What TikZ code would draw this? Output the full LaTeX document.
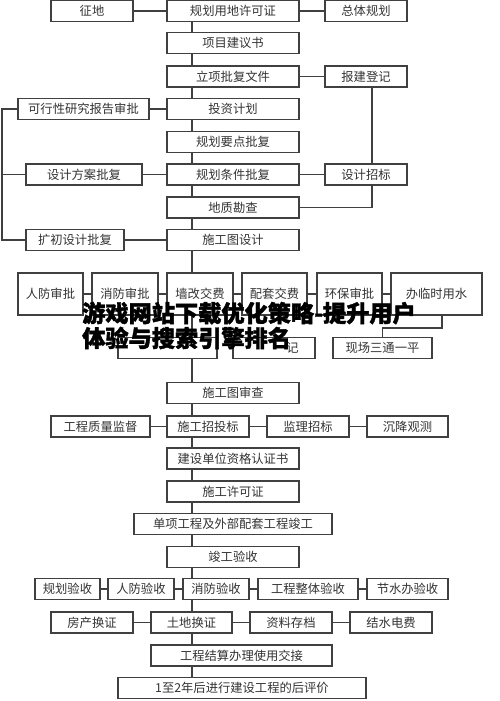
\documentclass[tikz,border=0pt]{standalone}
\usepackage{fontspec}
\newfontfamily\cjk{Noto Sans CJK SC}
\newfontfamily\cjkheavy{Noto Sans CJK SC}[BoldFeatures={FakeBold=1.6}]
\usepackage{tikz}
\usetikzlibrary{positioning, backgrounds}
\tikzstyle{block} = [rectangle, draw=black!75, line width=0.6pt, fill=white, minimum width=2.64cm, minimum height=0.42cm, inner sep=0pt, text=black!80, font=\cjk\fontsize{7}{8}\selectfont]
\tikzstyle{tall} = [block, minimum height=0.84cm]
\tikzstyle{line} = [draw=black!75, line width=0.6pt]
\tikzstyle{banner} = [anchor=west, align=left, text=black, font=\cjkheavy\bfseries\fontsize{13.2}{14.2}\selectfont]

\begin{document}
\begin{tikzpicture}[x=0.02cm, y=-0.02cm]
	\useasboundingbox (0,0) rectangle (500,701);

	% Main flow
	\node (p1)  [block] at (233,11) {规划用地许可证};
	\node (p2)  [block] at (233,43) {项目建议书};
	\node (p3)  [block] at (233,76.5) {立项批复文件};
	\node (p4)  [block] at (233,109) {投资计划};
	\node (p5)  [block] at (233,142) {规划要点批复};
	\node (p6)  [block] at (233,174.5) {规划条件批复};
	\node (p7)  [block] at (233,207.5) {地质勘查};
	\node (p8)  [block] at (233,240) {施工图设计};
	\node (p9)  [block] at (233,393) {施工图审查};
	\node (p10) [block] at (233,458.5) {建设单位资格认证书};
	\node (p11) [block] at (233,491.5) {施工许可证};
	\node (p12) [block, minimum width=3.96cm] at (233,524) {单项工程及外部配套工程竣工};
	\node (p13) [block] at (233,557) {竣工验收};
	\node (p14) [block, minimum width=3.62cm] at (241.5,655.5) {工程结算办理使用交接};
	\node (p15) [block, minimum width=4.96cm] at (242,688) {1至2年后进行建设工程的后评价};

	% Side boxes
	\node (l1) [block, minimum width=1.64cm] at (92,11) {征地};
	\node (r1) [block, minimum width=1.64cm] at (366,11) {总体规划};
	\node (r2) [block, minimum width=1.64cm] at (366,76.5) {报建登记};
	\node (l2) [block, minimum width=2.62cm] at (83.5,109) {可行性研究报告审批};
	\node (l3) [block, minimum width=2.32cm] at (84,174.5) {设计方案批复};
	\node (r3) [block, minimum width=1.64cm] at (366,174.5) {设计招标};
	\node (l4) [block, minimum width=1.96cm] at (75,240) {扩初设计批复};

	% Approvals and fees
	\node (a1) [tall, minimum width=1.3cm] at (50.5,294) {人防审批};
	\node (a2) [tall, minimum width=1.32cm] at (125,294) {消防审批};
	\node (a3) [tall, minimum width=1.32cm] at (200,294) {墙改交费};
	\node (a4) [tall, minimum width=1.3cm] at (274.5,294) {配套交费};
	\node (a5) [tall, minimum width=1.3cm] at (349.5,294) {环保审批};
	\node (a6) [tall, minimum width=1.82cm] at (436.5,294) {办临时用水};
	\node (b1) [block, minimum width=1.98cm] at (167.5,348) {};
	\node (b2) [block, minimum width=1.64cm] at (274,348) {\hphantom{记记记}记};
	\node (b3) [block, minimum width=1.98cm] at (382.5,348) {现场三通一平};

	% Tendering
	\node (c1) [block, minimum width=1.98cm] at (100.5,426.5) {工程质量监督};
	\node (c2) [block, minimum width=1.64cm] at (208,426.5) {施工招投标};
	\node (c3) [block, minimum width=1.64cm] at (308,426.5) {监理招标};
	\node (c4) [block, minimum width=1.62cm] at (407.5,426.5) {沉降观测};

	% Acceptance
	\node (d1) [block, minimum width=1.3cm] at (67.5,589) {规划验收};
	\node (d2) [block, minimum width=1.32cm] at (141,589) {人防验收};
	\node (d3) [block, minimum width=1.32cm] at (216,589) {消防验收};
	\node (d4) [block, minimum width=2cm] at (308,589) {工程整体验收};
	\node (d5) [block, minimum width=1.62cm] at (407.5,589) {节水办验收};
	\node (e1) [block, minimum width=1.64cm] at (92,622.5) {房产换证};
	\node (e2) [block, minimum width=1.62cm] at (191.5,622.5) {土地换证};
	\node (e3) [block, minimum width=1.64cm] at (291,622.5) {资料存档};
	\node (e4) [block, minimum width=1.64cm] at (391,622.5) {结水电费};

	\coordinate (sp) at (192,0);
	\coordinate (lb) at (2,0);
	\coordinate (rb) at (372,0);
	\coordinate (tk) at (442,328);

	% Draw edges
	\begin{scope}[on background layer]
		\path [line] (p1.south -| sp) -- (p15.north -| sp);
	\end{scope}
	\path [line] (l1) -- (p1);
	\path [line] (p1) -- (r1);
	\path [line] (p3) -- (r2);
	\path [line] (l2) -- (p4);
	\path [line] (l3) -- (p6);
	\path [line] (p6) -- (r3);
	\path [line] (l4) -- (p8);
	\path [line] (l2.west) -- (l2.west -| lb) -- (l4.west -| lb) -- (l4.west);
	\path [line] (l3.west -| lb) -- (l3.west);
	\path [line] (r2.south -| rb) -- (r3.north -| rb);
	\path [line] (p7.east) -| (r3.south -| rb);

	\path [line] (a1) -- (a2);
	\path [line] (a2) -- (a3);
	\path [line] (a3) -- (a4);
	\path [line] (a4) -- (a5);
	\path [line] (a5) -- (a6);
	\path [line] (a6.south -| tk) -- (tk) -| (b3.north);

	\path [line] (c1) -- (c2);
	\path [line] (c2) -- (c3);
	\path [line] (c3) -- (c4);

	\path [line] (d1) -- (d2);
	\path [line] (d2) -- (d3);
	\path [line] (d3) -- (d4);
	\path [line] (d4) -- (d5);
	\path [line] (e1) -- (e2);
	\path [line] (e2) -- (e3);
	\path [line] (e3) -- (e4);

	% Overlay title
	\node (wm) [banner] at (76,325.5) {游戏网站下载优化策略-提升用户\\体验与搜索引擎排名};
\end{tikzpicture}
\end{document}
